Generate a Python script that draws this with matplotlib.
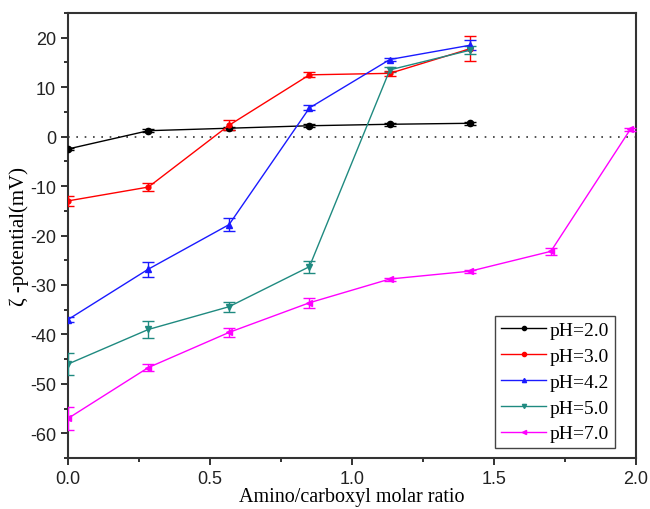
import matplotlib
matplotlib.use("Agg")
import matplotlib.pyplot as plt
from matplotlib.ticker import MultipleLocator
from matplotlib.lines import Line2D

plt.rcParams["axes.unicode_minus"] = False

# amino/carboxyl molar ratio
x = [0.0, 0.283, 0.567, 0.85, 1.133, 1.417, 1.70, 1.98]

ph20 = [-2.5, 1.2, 1.7, 2.2, 2.5, 2.7]
ph20_err = [0.3, 0.3, 0.3, 0.3, 0.3, 0.3]
ph30 = [-13.0, -10.2, 2.3, 12.5, 12.8, 17.8]
ph30_err = [1.0, 0.8, 1.0, 0.5, 0.5, 2.5]
ph42 = [-37.0, -26.8, -17.8, 5.8, 15.6, 18.5]
ph42_err = [0.5, 1.5, 1.3, 0.5, 0.3, 1.0]
ph50 = [-46.0, -39.0, -34.4, -26.3, 13.5, 17.5]
ph50_err = [2.2, 1.8, 1.0, 1.2, 0.5, 0.8]
ph70 = [-57.0, -46.7, -39.6, -33.6, -28.8, -27.2, -23.2, 1.5]
ph70_err = [2.3, 0.8, 0.9, 1.0, 0.3, 0.3, 0.7, 0.3]

labels = ["pH=2.0", "pH=3.0", "pH=4.2", "pH=5.0", "pH=7.0"]
colors = ["black", "#ff0000", "#1a1aff", "#1f8a80", "#ff00ff"]
markers = ["o", "o", "^", "v", "<"]
msizes = [4.5, 3.5, 4.5, 4.5, 4.5]
series = [(ph20, ph20_err), (ph30, ph30_err), (ph42, ph42_err),
          (ph50, ph50_err), (ph70, ph70_err)]

fig = plt.figure(figsize=(6.5, 5.1), dpi=100)
ax = fig.add_axes([0.1046, 0.1, 0.874, 0.8725])

ax.axhline(0, color="#333333", ls=(0, (1, 4)), lw=1.2, zorder=1)

handles = []
for (y, e), lab, c, m, ms in zip(series, labels, colors, markers, msizes):
    ax.errorbar(x[:len(y)], y, yerr=e, color=c, marker=m, ms=ms, lw=1,
                capsize=4, elinewidth=1, capthick=1, zorder=3)
    handles.append(Line2D([], [], color=c, marker=m, ms=3, lw=1, label=lab))

ax.set_xlim(0, 2.0)
ax.set_ylim(-65, 25)
ax.xaxis.set_major_locator(MultipleLocator(0.5))
ax.xaxis.set_minor_locator(MultipleLocator(0.25))
ax.yaxis.set_major_locator(MultipleLocator(10))
ax.yaxis.set_minor_locator(MultipleLocator(5))
ax.tick_params(which="both", direction="out", top=False, right=False,
               labelsize=13, colors="#222222")
ax.tick_params(which="major", length=5, width=1.3)
ax.tick_params(which="minor", length=3, width=1.3)
for lbl in ax.get_xticklabels() + ax.get_yticklabels():
    lbl.set_fontfamily("Liberation Sans")
for s in ax.spines.values():
    s.set_linewidth(1.5)
    s.set_color("#333333")

ax.set_xlabel("Amino/carboxyl molar ratio", family="Liberation Serif",
              fontsize=14.5, labelpad=0)
ax.set_ylabel("ζ -potential(mV)", family=["Liberation Serif", "DejaVu Serif"],
              fontsize=15, labelpad=1)

ax.legend(handles=handles, loc="lower right", bbox_to_anchor=(0.963, 0.022),
          prop={"family": "Liberation Serif", "size": 14},
          fancybox=False, framealpha=1, edgecolor="#444444",
          handlelength=2.3, handletextpad=0.2, labelspacing=0.42,
          borderaxespad=0, borderpad=0.3)

fig.savefig("out.png", dpi=100)
